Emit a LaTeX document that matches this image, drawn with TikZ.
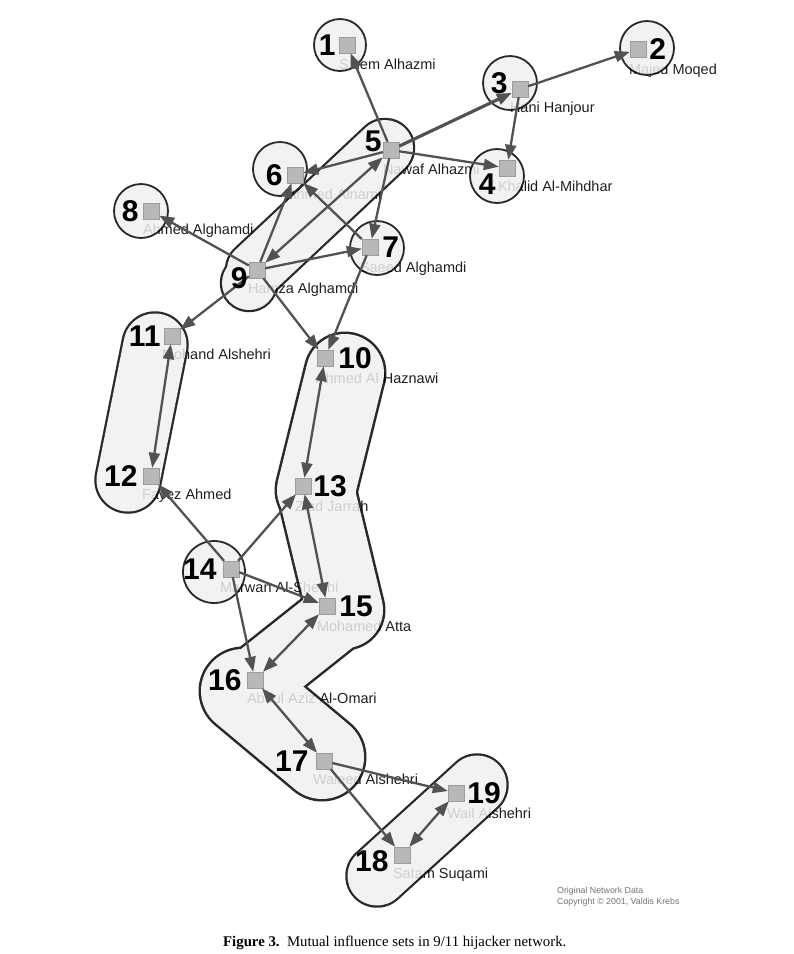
\documentclass[tikz,border=0pt]{standalone}
\usepackage{fontspec}
\setmainfont{Liberation Serif}
\setsansfont{Liberation Sans}
\usetikzlibrary{arrows.meta,positioning}

\definecolor{setfill}{gray}{0.94}
\definecolor{sqfill}{gray}{0.72}
\definecolor{lnkcol}{gray}{0.32}
\definecolor{whocol}{gray}{0.12}
\definecolor{srccol}{gray}{0.45}

\pgfdeclarelayer{names}
\pgfdeclarelayer{sets}
\pgfsetlayers{names,sets,main}

\tikzset{
  sq/.style={draw=sqfill!85!black, fill=sqfill, minimum size=16pt, inner sep=0pt, line width=0.4pt},
  num/.style={font=\sffamily\bfseries\fontsize{30}{30}\selectfont, inner sep=0pt},
  who/.style={font=\sffamily\fontsize{14.5}{14.5}\selectfont, text=whocol, inner sep=0pt},
  lnk/.style={draw=lnkcol, line width=2.3pt, -{Triangle[length=15pt,width=11pt]}},
  both/.style={{Triangle[length=15pt,width=11pt]}-{Triangle[length=15pt,width=11pt]}},
  ring/.style={draw=black, fill=setfill, line width=1.8pt},
  rim/.style={draw=black, line cap=round, line join=round},
  core/.style={draw=setfill, line cap=round, line join=round},
  srctxt/.style={font=\sffamily\fontsize{8.8}{8.8}\selectfont, text=srccol, inner sep=0pt, anchor=west},
}

\begin{document}
\begin{tikzpicture}[x=1pt,y=-1pt]
  \useasboundingbox (0,0) rectangle (794,954);

  % hijackers
  \node[sq] (n1) at (347,45) {};
  \node[sq] (n2) at (638,49) {};
  \node[sq] (n3) at (520,89) {};
  \node[sq] (n4) at (507,168) {};
  \node[sq] (n5) at (391,150) {};
  \node[sq] (n6) at (295,175) {};
  \node[sq] (n7) at (370,247) {};
  \node[sq] (n8) at (151,211) {};
  \node[sq] (n9) at (257,270) {};
  \node[sq] (n10) at (325,358) {};
  \node[sq] (n11) at (172,336) {};
  \node[sq] (n12) at (151,476) {};
  \node[sq] (n13) at (303,486) {};
  \node[sq] (n14) at (231,569) {};
  \node[sq] (n15) at (327,606) {};
  \node[sq] (n16) at (255,680) {};
  \node[sq] (n17) at (324,761) {};
  \node[sq] (n18) at (402,855) {};
  \node[sq] (n19) at (456,793) {};

  % names, under the sets
  \begin{pgfonlayer}{names}
    \node[who, below right=6pt and 0pt of n1.south west] (w1) {Salem Alhazmi};
    \node[who, below right=7pt and -1pt of n2.south west] (w2) {Majed Moqed};
    \node[who, below right=5pt and -2pt of n3.south west] (w3) {Hani Hanjour};
    \node[who, below right=5pt and -1pt of n4.south west] (w4) {Khalid Al-Mihdhar};
    \node[who, below right=6pt and 0pt of n5.south west] (w5) {Nawaf Alhazmi};
    \node[who, below right=6pt and 0pt of n6.south west] (w6) {Ahmed Alnami};
    \node[who, below right=7pt and -2pt of n7.south west] (w7) {Saeed Alghamdi};
    \node[who, below right=5pt and 0pt of n8.south west] (w8) {Ahmed Alghamdi};
    \node[who, below right=5pt and -1pt of n9.south west] (w9) {Hamza Alghamdi};
    \node[who, below right=7pt and -1pt of n10.south west] (w10) {Ahmed Al Haznawi};
    \node[who, below right=5pt and -2pt of n11.south west] (w11) {Mohand Alshehri};
    \node[who, below right=5pt and -1pt of n12.south west] (w12) {Fayez Ahmed};
    \node[who, below right=7pt and 0pt of n13.south west] (w13) {Ziad Jarrah};
    \node[who, below right=5pt and -3pt of n14.south west] (w14) {Marwan Al-Shehhi};
    \node[who, below right=7pt and -2pt of n15.south west] (w15) {Mohamed Atta};
    \node[who, below right=5pt and 0pt of n16.south west] (w16) {Abdul Aziz Al-Omari};
    \node[who, below right=5pt and -3pt of n17.south west] (w17) {Waleed Alshehri};
    \node[who, below right=5pt and -1pt of n18.south west] (w18) {Satam Suqami};
    \node[who, below right=7pt and -1pt of n19.south west] (w19) {Wail Alshehri};
  \end{pgfonlayer}

  % mutual influence sets
  \begin{pgfonlayer}{sets}
  \begin{scope}[transparency group, opacity=0.84]
    \coordinate (a0) at (345,373);
    \coordinate (a1) at (316,490);
    \coordinate (a2) at (345,610);
    \coordinate (a3) at (243,691);
    \coordinate (a4) at (322,757);
    \draw[rim, line width=83pt] (a0) -- (a1);
    \draw[rim, line width=81pt] (a1) -- (a2);
    \draw[rim, line width=73pt] (a2) -- (a3);
    \draw[rim, line width=89pt] (a3) -- (a4);
    \draw[core, line width=78pt] (a0) -- (a1);
    \draw[core, line width=76pt] (a1) -- (a2);
    \draw[core, line width=68pt] (a2) -- (a3);
    \draw[core, line width=84pt] (a3) -- (a4);

    \coordinate (b0) at (255,270);
    \coordinate (b1) at (385,148);
    \draw[rim, line width=60.5pt] (b0) -- (b1);
    \fill (249,283) circle (29.2);
    \draw[core, line width=56pt] (b0) -- (b1);
    \fill[setfill] (249,283) circle (27);

    \coordinate (c0) at (155,345);
    \coordinate (c1) at (128,480);
    \draw[rim, line width=67.5pt] (c0) -- (c1);
    \draw[core, line width=63pt] (c0) -- (c1);

    \coordinate (d0) at (377,876);
    \coordinate (d1) at (477,785);
    \draw[rim, line width=63.5pt] (d0) -- (d1);
    \draw[core, line width=59pt] (d0) -- (d1);

    \draw[ring] (340,45) circle (26);
    \draw[ring] (647,48) circle (27);
    \draw[ring] (510,83) circle (27);
    \draw[ring] (497,176) circle (27);
    \draw[ring] (280,169) circle (27);
    \draw[ring] (377,248) circle (27);
    \draw[ring] (141,211) circle (27);
    \draw[ring] (214,572) circle (31);
  \end{scope}
  \end{pgfonlayer}

  % influence links
  \draw[lnk] (n5) -- (n1);
  \draw[lnk, line width=3.2pt] (n5) -- (n3);
  \draw[lnk] (n3) -- (n2);
  \draw[lnk] (n3) -- (n4);
  \draw[lnk] (n5) -- (n4);
  \draw[lnk] (n5) -- (n6);
  \draw[lnk] (n5) -- (n7);
  \draw[lnk, both] (n9) -- (n5);
  \draw[lnk] (n9) -- (n6);
  \draw[lnk] (n7) -- (n6);
  \draw[lnk] (n9) -- (n8);
  \draw[lnk] (n9) -- (n7);
  \draw[lnk] (n9) -- (n11);
  \draw[lnk] (n9) -- (n10);
  \draw[lnk] (n7) -- (n10);
  \draw[lnk, both] (n10) -- (n13);
  \draw[lnk, both] (n11) -- (n12);
  \draw[lnk, both] (n13) -- (n15);
  \draw[lnk] (n14) -- (n12);
  \draw[lnk] (n14) -- (n13);
  \draw[lnk] (n14) -- (n15);
  \draw[lnk] (n14) -- (n16);
  \draw[lnk, both] (n15) -- (n16);
  \draw[lnk, both] (n16) -- (n17);
  \draw[lnk] (n17) -- (n19);
  \draw[lnk] (n17) -- (n18);
  \draw[lnk, both] (n18) -- (n19);

  % numbers
  \node[num, left=3pt of n1] (k1) {1};
  \node[num, right=3pt of n2] (k2) {2};
  \node[num, above left=-13pt and 4pt of n3] (k3) {3};
  \node[num, below left=-3pt and 3pt of n4] (k4) {4};
  \node[num, above left=-10pt and 1pt of n5] (k5) {5};
  \node[num, left=4pt of n6] (k6) {6};
  \node[num, right=4pt of n7] (k7) {7};
  \node[num, left=4pt of n8] (k8) {8};
  \node[num, below left=-11pt and 1pt of n9] (k9) {9};
  \node[num, right=5pt of n10] (k10) {10};
  \node[num, left=3pt of n11] (k11) {11};
  \node[num, left=5pt of n12] (k12) {12};
  \node[num, right=2pt of n13] (k13) {13};
  \node[num, left=6pt of n14] (k14) {14};
  \node[num, right=4pt of n15] (k15) {15};
  \node[num, left=5pt of n16] (k16) {16};
  \node[num, left=7pt of n17] (k17) {17};
  \node[num, below left=-13pt and 5pt of n18] (k18) {18};
  \node[num, right=3pt of n19] (k19) {19};

  \node[srctxt] (src) at (557,891) {Original Network Data};
  \node[srctxt, below right=3pt and 0pt of src.south west] (cpy) {Copyright \textcopyright\ 2001, Valdis Krebs};

  \node[anchor=base west, inner sep=0pt, font=\fontsize{14.8}{14.8}\selectfont] (cap) at (223,946)
    {\textbf{Figure 3.}\ \ Mutual influence sets in 9/11 hijacker network.};
\end{tikzpicture}
\end{document}
